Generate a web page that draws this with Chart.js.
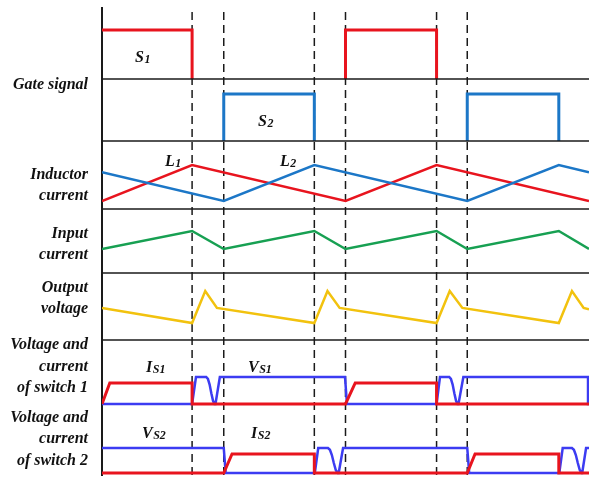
<!DOCTYPE html>
<html>
<head>
<meta charset="utf-8">
<script src="https://cdn.jsdelivr.net/npm/chart.js@4.4.1/dist/chart.umd.min.js"></script>
<style>
html,body{margin:0;padding:0;background:#ffffff;}
#wrap{width:590px;height:479px;}
</style>
</head>
<body>
<div id="wrap"><canvas id="c" width="590" height="479"></canvas></div>
<script>
// ---------- DATA (time in % of the shown window, values normalised per panel) ----------
const switchTimes = [18.5, 25, 43.6, 50, 68.7, 75];
const rowLabels = [
  ["Gate signal"],
  ["Inductor", "current"],
  ["Input", "current"],
  ["Output", "voltage"],
  ["Voltage and", "current", "of switch 1"],
  ["Voltage and", "current", "of switch 2"]
];
const gateS1 = [[0,1],[18.5,1],[18.5,0],[50,0],[50,1],[68.7,1],[68.7,0],[100,0]];
const gateS2 = [[0,0],[25,0],[25,1],[43.6,1],[43.6,0],[75,0],[75,1],[93.8,1],[93.8,0],[100,0]];
const inductorL1 = [[0,0],[18.5,1],[50,0],[68.7,1],[100,0]];
const inductorL2 = [[0,0.8],[25,0],[43.6,1],[75,0],[93.8,1],[100,0.8]];
const inputCurrent = [[0,0],[18.5,1],[25,0],[43.6,1],[50,0],[68.7,1],[75,0],[93.8,1],[100,0]];
const outputVoltage = [[0,0.47],[18.5,0],[21.2,1],[23.6,0.47],[43.6,0],[46.3,1],[48.8,0.47],
  [68.7,0],[71.4,1],[74,0.47],[93.8,0],[96.5,1],[98.9,0.47],[100,0.43]];
const switch1Current = [[0,0],[1.6,0.78],[18.5,0.78],[18.5,0],[50,0],[52,0.78],[68.7,0.78],[68.7,0],[100,0]];
const switch1Voltage = [[0,0],[18.5,0],[19.3,1],[21.4,1],[21.75,0.93],[22.1,0.72],[22.45,0.4],[22.8,0.12],
  [23.1,0],[23.3,0],[24.2,1],[49.9,1],[50.3,0],[68.7,0],[69.4,1],[71.3,1],[71.65,0.93],[72.0,0.72],
  [72.35,0.4],[72.7,0.12],[73.0,0],[73.2,0],[74.2,1],[99.8,1],[99.8,0],[100,0]];
const switch2Current = [[0,0],[25,0],[26.7,0.76],[43.6,0.76],[43.6,0],[75,0],[76.6,0.76],[93.8,0.76],[93.8,0],[100,0]];
const switch2Voltage = [[0,1],[25,1],[25.4,0],[43.7,0],[44.4,1],[46.4,1],[46.8,0.93],[47.2,0.72],[47.6,0.4],
  [48.0,0.12],[48.4,0],[48.6,0],[49.5,1],[75,1],[75.4,0],[93.9,0],[94.6,1],[96.5,1],[96.9,0.93],[97.3,0.72],
  [97.7,0.4],[98.1,0.12],[98.5,0],[98.6,0],[99.4,1],[100,1]];

// ---------- LAYOUT (rows of the stacked panels, in canvas rows) ----------
const PLOT_TOP = 8, PLOT_BOTTOM = 475;
const SPAN = PLOT_BOTTOM - PLOT_TOP;
const row = px => PLOT_BOTTOM - px;
const panels = {
  s1:  {base: 79,  amp: 49},
  s2:  {base: 141, amp: 47},
  ind: {base: 201, amp: 36},
  inp: {base: 249, amp: 18},
  out: {base: 323, amp: 32},
  sw1: {base: 404, amp: 27},
  sw2: {base: 473, amp: 25}
};
const separatorRows = [79, 141, 209, 273, 340];
const labelRows = [85, 185.5, 244.5, 298.5, 366.5, 439];
const annotations = [
  {x: 135, y: 62,  main: 'S', sub: '1'},
  {x: 258, y: 126, main: 'S', sub: '2'},
  {x: 165, y: 166, main: 'L', sub: '1'},
  {x: 280, y: 166, main: 'L', sub: '2'},
  {x: 146, y: 372, main: 'I', sub: 'S1'},
  {x: 248, y: 372, main: 'V', sub: 'S1'},
  {x: 142, y: 438, main: 'V', sub: 'S2'},
  {x: 251, y: 438, main: 'I', sub: 'S2'}
];

const RED = '#e8141e', STEEL = '#1c77c7', GREEN = '#17a052', YELLOW = '#f2c20e', VIOLET = '#3c3cf2', INK = '#1a1a1a';

function series(pts, p, color, width, order, hideLow) {
  const low = row(p.base);
  const ds = {
    data: pts.map(([t, v]) => ({x: t, y: low + v * p.amp})),
    borderColor: color, borderWidth: width, pointRadius: 0, tension: 0,
    fill: false, order: order, borderJoinStyle: 'miter'
  };
  if (hideLow) {
    ds.segment = {
      borderColor: c => (c.p0.parsed.y === low && c.p1.parsed.y === low) ? 'rgba(0,0,0,0)' : color
    };
  }
  return ds;
}
const datasets = [];
switchTimes.forEach(t => datasets.push({
  data: [{x: t, y: 0}, {x: t, y: SPAN}], borderColor: INK, borderWidth: 1.5,
  borderDash: [8, 5], pointRadius: 0, order: 6
}));
datasets.push(series(gateS1, panels.s1, RED, 3, 5, true));
datasets.push(series(gateS2, panels.s2, STEEL, 3, 5, true));
separatorRows.forEach(r => datasets.push({
  data: [{x: 0, y: row(r)}, {x: 100, y: row(r)}], borderColor: INK, borderWidth: 1.5,
  pointRadius: 0, order: 4
}));
datasets.push(series(inductorL1, panels.ind, RED, 2.5, 2));
datasets.push(series(inductorL2, panels.ind, STEEL, 2.5, 1));
datasets.push(series(inputCurrent, panels.inp, GREEN, 2.5, 1));
datasets.push(series(outputVoltage, panels.out, YELLOW, 2.5, 1));
datasets.push(series(switch1Voltage, panels.sw1, VIOLET, 2.5, 2));
datasets.push(series(switch1Current, panels.sw1, RED, 3, 1));
datasets.push(series(switch2Voltage, panels.sw2, VIOLET, 2.5, 2));
datasets.push(series(switch2Current, panels.sw2, RED, 3, 1));

const SERIF = '"Liberation Serif", "DejaVu Serif", serif';
const annotationPlugin = {
  id: 'annot',
  afterDatasetsDraw(chart) {
    const {ctx, scales} = chart;
    const xs = scales.x, ys = scales.y;
    ctx.save();
    ctx.fillStyle = '#111';
    ctx.textBaseline = 'alphabetic';
    ctx.textAlign = 'left';
    for (const a of annotations) {
      const px = xs.getPixelForValue((a.x - 102) / 4.87);
      const py = ys.getPixelForValue(row(a.y));
      ctx.font = 'italic bold 16px ' + SERIF;
      ctx.fillText(a.main, px, py);
      const w = ctx.measureText(a.main).width;
      ctx.font = 'italic bold 12px ' + SERIF;
      ctx.fillText(a.sub, px + w + 0.5, py + 0.5);
    }
    ctx.restore();
  }
};

new Chart(document.getElementById('c'), {
  type: 'line',
  data: {datasets},
  options: {
    responsive: false,
    animation: false,
    layout: {padding: {top: PLOT_TOP, bottom: 479 - PLOT_BOTTOM, left: 0, right: 1}},
    plugins: {legend: {display: false}, tooltip: {enabled: false}},
    scales: {
      x: {type: 'linear', min: 0, max: 100, display: false},
      y: {
        type: 'linear', min: 0, max: SPAN,
        afterBuildTicks: s => { s.ticks = labelRows.map(r => ({value: row(r)})); },
        afterFit: s => { s.width = 102; s.paddingTop = 0; s.paddingBottom = 0; },
        grid: {display: false, drawTicks: false},
        border: {display: true, color: INK, width: 2},
        ticks: {
          autoSkip: false, padding: 14, color: '#111',
          font: {family: SERIF, size: 16, style: 'italic', weight: 'bold', lineHeight: 1.34},
          callback: (v, i) => rowLabels[i]
        }
      }
    }
  },
  plugins: [annotationPlugin]
});
</script>
</body>
</html>
